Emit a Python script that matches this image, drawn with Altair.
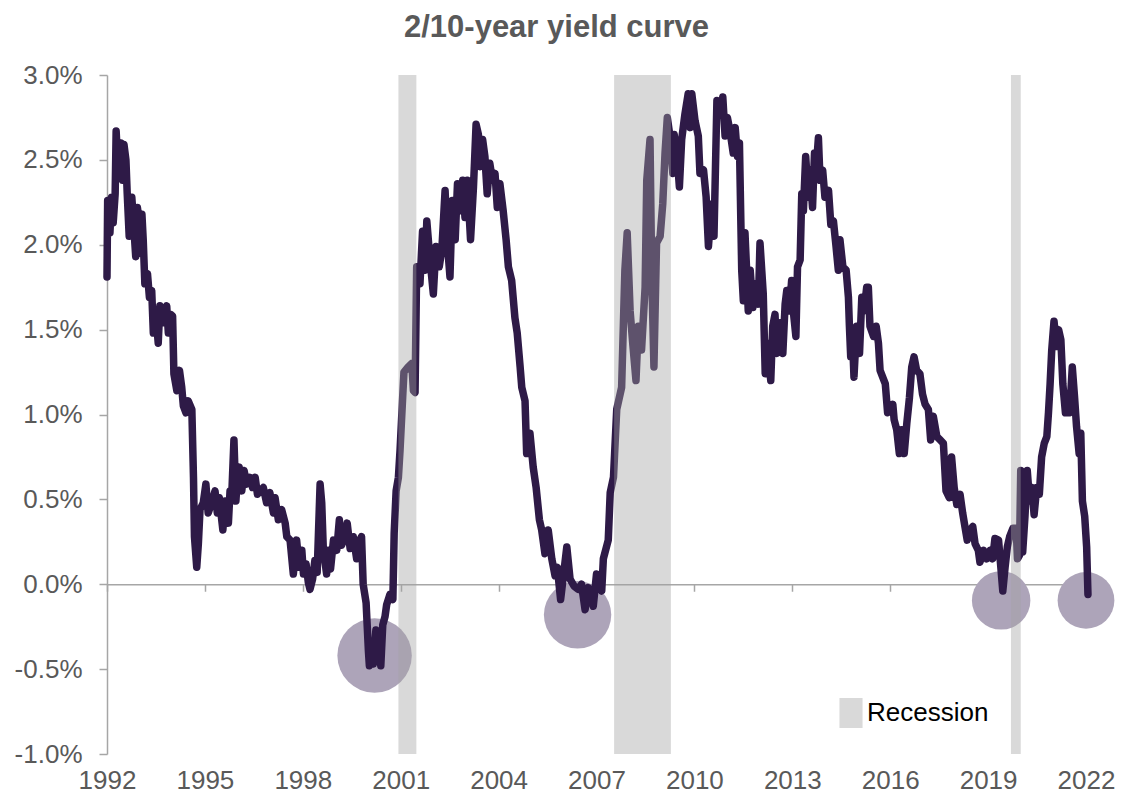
import altair as alt
import pandas as pd

# ---- data ----
years = [
    1992.00, 1992.02, 1992.09, 1992.14, 1992.19, 1992.25, 1992.28, 1992.35, 1992.42, 1992.48,
    1992.52, 1992.58, 1992.62, 1992.68, 1992.73, 1992.76, 1992.81, 1992.88, 1992.93, 1992.99,
    1993.03, 1993.07, 1993.11, 1993.16, 1993.24, 1993.30, 1993.37, 1993.42, 1993.47, 1993.52,
    1993.57, 1993.62, 1993.71, 1993.83, 1993.88, 1993.95, 1994.01, 1994.05, 1994.14, 1994.22,
    1994.29, 1994.34, 1994.42, 1994.49, 1994.60, 1994.65, 1994.68, 1994.75, 1994.80, 1994.85,
    1994.95, 1995.03, 1995.10, 1995.21, 1995.31, 1995.38, 1995.44, 1995.55, 1995.62, 1995.72,
    1995.77, 1995.82, 1995.89, 1995.95, 1995.99, 1996.05, 1996.13, 1996.20, 1996.28, 1996.38,
    1996.46, 1996.54, 1996.61,
    1996.69, 1996.79, 1996.89, 1996.99, 1997.10, 1997.15, 1997.25, 1997.35, 1997.46, 1997.51,
    1997.61, 1997.71, 1997.81, 1997.89, 1997.97, 1998.02, 1998.10, 1998.17, 1998.22, 1998.30,
    1998.37, 1998.44, 1998.53, 1998.58, 1998.63, 1998.73, 1998.78, 1998.85, 1998.94, 1999.04,
    1999.12, 1999.19, 1999.29, 1999.36, 1999.45, 1999.55, 1999.65, 1999.70, 1999.80, 1999.85,
    1999.94, 2000.01, 2000.04, 2000.11, 2000.16, 2000.24, 2000.31, 2000.39, 2000.45, 2000.52,
    2000.57, 2000.67, 2000.76, 2000.80, 2000.86, 2000.93, 2000.98, 2001.06, 2001.10, 2001.23,
    2001.34, 2001.39, 2001.44, 2001.49,
    2001.59, 2001.67, 2001.75, 2001.80, 2001.88, 2002.00, 2002.08, 2002.18, 2002.26, 2002.36,
    2002.43, 2002.51, 2002.58, 2002.67, 2002.74, 2002.82, 2002.90, 2002.97, 2003.04, 2003.14,
    2003.23, 2003.31, 2003.38, 2003.43, 2003.51, 2003.58, 2003.65, 2003.73, 2003.81, 2003.89,
    2003.96, 2004.04, 2004.14, 2004.23, 2004.30, 2004.40, 2004.50, 2004.57, 2004.66, 2004.71,
    2004.81, 2004.86, 2004.96, 2005.06, 2005.15, 2005.25, 2005.32, 2005.42, 2005.52, 2005.63,
    2005.73, 2005.80, 2005.90, 2005.98, 2006.09, 2006.19, 2006.31, 2006.44, 2006.54, 2006.65,
    2006.75, 2006.85,
    2006.90, 2007.00, 2007.16, 2007.21, 2007.36, 2007.42, 2007.52,
    2007.62, 2007.77, 2007.87, 2007.94, 2008.03, 2008.11, 2008.21, 2008.28, 2008.38, 2008.49,
    2008.54, 2008.64, 2008.69, 2008.76, 2008.84, 2008.95, 2009.03, 2009.10, 2009.17, 2009.25,
    2009.34, 2009.38, 2009.48, 2009.54, 2009.61, 2009.71, 2009.81, 2009.87, 2009.92, 2010.02,
    2010.12, 2010.17, 2010.28, 2010.36, 2010.43, 2010.53, 2010.60, 2010.69, 2010.79, 2010.87,
    2010.94, 2011.01, 2011.09, 2011.19, 2011.25, 2011.32, 2011.38, 2011.45, 2011.50, 2011.55,
    2011.60, 2011.65, 2011.71, 2011.79, 2011.86, 2011.96,
    2012.01, 2012.11, 2012.17, 2012.24, 2012.34, 2012.40, 2012.47, 2012.52, 2012.63, 2012.71,
    2012.78, 2012.83, 2012.91, 2012.98, 2013.03, 2013.11, 2013.16, 2013.24, 2013.29, 2013.34,
    2013.41, 2013.49, 2013.54, 2013.62, 2013.68, 2013.73, 2013.80, 2013.85, 2013.93, 2014.00,
    2014.11, 2014.18, 2014.26, 2014.34, 2014.41, 2014.46, 2014.55, 2014.65, 2014.72, 2014.75,
    2014.79, 2014.85, 2014.89, 2014.97, 2015.06, 2015.13, 2015.20, 2015.28, 2015.33, 2015.38,
    2015.49, 2015.57, 2015.64, 2015.69, 2015.77, 2015.85, 2015.92, 2016.00, 2016.08, 2016.12,
    2016.20, 2016.28, 2016.35, 2016.43, 2016.51, 2016.59, 2016.66, 2016.73, 2016.81, 2016.91,
    2016.99, 2017.07, 2017.17, 2017.24,
    2017.32, 2017.43, 2017.53, 2017.63, 2017.71, 2017.81, 2017.88, 2017.96, 2018.04, 2018.14,
    2018.22, 2018.29, 2018.36, 2018.45, 2018.53, 2018.60, 2018.70, 2018.75, 2018.86, 2018.96,
    2019.06, 2019.14, 2019.21, 2019.32, 2019.39, 2019.45, 2019.52, 2019.59, 2019.66, 2019.76,
    2019.86, 2019.90, 2019.96, 2020.00, 2020.06, 2020.13, 2020.20, 2020.27, 2020.34, 2020.41,
    2020.49, 2020.57, 2020.64, 2020.72, 2020.80, 2020.85, 2020.90, 2020.95, 2021.02, 2021.09,
    2021.16, 2021.23, 2021.29, 2021.37, 2021.44, 2021.50, 2021.58, 2021.65, 2021.71, 2021.79,
    2021.84, 2021.89, 2021.96, 2022.02, 2022.06,
]

spread = [
    1.81, 2.26, 2.07, 2.28, 2.13, 2.30, 2.67, 2.40, 2.60, 2.38,
    2.59, 2.50, 2.30, 2.05, 2.20, 2.28, 2.14, 1.93, 2.22, 2.14,
    1.95, 2.18, 2.03, 1.77, 1.83, 1.69, 1.73, 1.48, 1.61, 1.54,
    1.42, 1.64, 1.54, 1.64, 1.48, 1.59, 1.58, 1.24, 1.14, 1.26,
    1.16, 1.05, 1.01, 1.08, 1.03, 0.63, 0.28, 0.10, 0.24, 0.44,
    0.48, 0.59, 0.42, 0.48, 0.55, 0.42, 0.51, 0.32, 0.49, 0.36,
    0.55, 0.51, 0.85, 0.49, 0.61, 0.69, 0.55, 0.67, 0.59, 0.63,
    0.57, 0.63, 0.53,
    0.55, 0.57, 0.48, 0.54, 0.42, 0.51, 0.38, 0.44, 0.36, 0.28,
    0.26, 0.06, 0.26, 0.10, 0.20, 0.06, 0.12, 0.01, -0.03, 0.03,
    0.14, 0.07, 0.59, 0.48, 0.20, 0.06, 0.20, 0.09, 0.26, 0.20,
    0.38, 0.23, 0.28, 0.36, 0.21, 0.28, 0.15, 0.24, 0.28, 0.00,
    -0.11, -0.39, -0.48, -0.39, -0.47, -0.27, -0.35, -0.48, -0.24, -0.19,
    -0.12, -0.06, -0.09, 0.30, 0.55, 0.63, 0.79, 1.10, 1.25, 1.28,
    1.30, 1.14, 1.13, 1.87,
    1.77, 2.08, 1.85, 2.14, 1.95, 1.71, 1.99, 1.87, 1.97, 2.32,
    2.01, 1.81, 2.26, 2.03, 2.36, 2.20, 2.38, 2.16, 2.38, 2.03,
    2.34, 2.71, 2.65, 2.46, 2.62, 2.52, 2.30, 2.48, 2.38, 2.42,
    2.22, 2.36, 2.20, 2.03, 1.87, 1.79, 1.57, 1.48, 1.28, 1.16,
    1.08, 0.77, 0.89, 0.69, 0.57, 0.38, 0.32, 0.18, 0.32, 0.15,
    0.05, 0.10, -0.09, 0.04, 0.22, 0.03, -0.01, -0.03, 0.00, -0.15,
    -0.02, -0.08,
    -0.13, 0.06, -0.04, 0.15, 0.26, 0.54, 0.63,
    1.03, 1.16, 1.85, 2.07, 1.61, 1.42, 1.20, 1.52, 1.38, 1.75,
    2.38, 2.62, 1.85, 1.28, 2.01, 2.05, 2.24, 2.54, 2.75, 2.64,
    2.42, 2.65, 2.50, 2.34, 2.62, 2.77, 2.89, 2.69, 2.89, 2.73,
    2.64, 2.42, 2.44, 2.28, 1.99, 2.24, 2.05, 2.85, 2.77, 2.87,
    2.64, 2.75, 2.67, 2.54, 2.69, 2.52, 2.60, 1.85, 1.67, 2.07,
    1.85, 1.61, 1.85, 1.63, 1.77, 1.65,
    2.01, 1.71, 1.24, 1.42, 1.20, 1.52, 1.59, 1.36, 1.54, 1.36,
    1.65, 1.73, 1.61, 1.79, 1.61, 1.46, 1.87, 1.91, 2.30, 2.20,
    2.52, 2.28, 2.44, 2.22, 2.54, 2.44, 2.63, 2.38, 2.44, 2.28,
    2.32, 2.12, 2.14, 1.99, 1.85, 2.03, 1.87, 1.85, 1.69, 1.52,
    1.34, 1.42, 1.22, 1.52, 1.36, 1.69, 1.61, 1.75, 1.75, 1.52,
    1.46, 1.52, 1.42, 1.26, 1.22, 1.18, 1.01, 1.03, 1.06, 0.97,
    0.91, 0.77, 0.91, 0.77, 0.95, 1.10, 1.28, 1.34, 1.26, 1.24,
    1.12, 1.06, 1.03, 0.85,
    0.99, 0.87, 0.85, 0.83, 0.55, 0.51, 0.75, 0.57, 0.47, 0.53,
    0.42, 0.34, 0.26, 0.32, 0.34, 0.24, 0.20, 0.13, 0.20, 0.15,
    0.20, 0.15, 0.27, 0.26, 0.10, -0.04, 0.10, 0.22, 0.28, 0.33,
    0.33, 0.15, 0.17, 0.67, 0.19, 0.40, 0.67, 0.49, 0.57, 0.41,
    0.57, 0.53, 0.75, 0.83, 0.87, 1.01, 1.18, 1.38, 1.55, 1.40,
    1.50, 1.44, 1.18, 1.01, 1.08, 1.01, 1.28, 1.10, 0.93, 0.77,
    0.89, 0.49, 0.40, 0.22, -0.06,
]

recession_start = [2000.93, 2007.54, 2019.70]
recession_end = [2001.48, 2009.28, 2020.00]
recession_label = ["Recession", "Recession", "Recession"]

inversion_year = [2000.20, 2006.42, 2019.40, 2022.00]
inversion_value = [-0.42, -0.18, -0.095, -0.095]

x_tick_years = [1992, 1995, 1998, 2001, 2004, 2007, 2010, 2013, 2016, 2019, 2022]
y_tick_values = [-1.0, -0.5, 0.0, 0.5, 1.0, 1.5, 2.0, 2.5, 3.0]

# ---- styling ----
W, H = 979, 679
FONT = "Liberation Sans"
LINE_COLOR = "#2e1a47"
AXIS_COLOR = "#a6a6a6"
LABEL_COLOR = "#595959"
CIRCLE_COLOR = "#ada4b9"
CIRCLE_SIZES = [5540, 4540, 3420, 3220]
LEGEND_SYMBOL = "M-0.77,-1H0.77V1H-0.77Z"

line_df = pd.DataFrame({"year": years, "spread": spread})
rec_df = pd.DataFrame({"start": recession_start, "end": recession_end, "label": recession_label})
circ_df = pd.DataFrame({"year": inversion_year, "spread": inversion_value, "sz": CIRCLE_SIZES})

xscale = alt.Scale(domain=[1992, 2022], nice=False, zero=False)
yscale = alt.Scale(domain=[-1, 3], nice=False, zero=False)

y_label_expr = "(datum.value < 0 ? '-' : '') + format(abs(datum.value), '.1f') + '%'"

y_axis = alt.Axis(
    values=y_tick_values, labelExpr=y_label_expr, grid=False, title=None,
    domainColor=AXIS_COLOR, domainWidth=1.5, tickColor=AXIS_COLOR, tickWidth=1.5,
    tickSize=8, labelPadding=17, labelFontSize=26, labelColor=LABEL_COLOR,
    labelFont=FONT,
)

circles = alt.Chart(circ_df).mark_circle(color=CIRCLE_COLOR, opacity=1).encode(
    x=alt.X("year:Q", scale=xscale, axis=None),
    y=alt.Y("spread:Q", scale=yscale, axis=y_axis),
    size=alt.Size("sz:Q", scale=None, legend=None),
)

line = alt.Chart(line_df).mark_line(
    color=LINE_COLOR, strokeWidth=7.5, strokeCap="round", strokeJoin="round"
).encode(
    x=alt.X(
        "year:Q", scale=xscale,
        axis=alt.Axis(
            orient="bottom", values=x_tick_years, format="d", domain=False, ticks=False,
            grid=False, title=None, labelFontSize=26, labelColor=LABEL_COLOR,
            labelPadding=13, labelFont=FONT, labelFlush=False, labelOverlap=False,
        ),
    ),
    y=alt.Y("spread:Q", scale=yscale, axis=y_axis),
)

bands = alt.Chart(rec_df).mark_rect(opacity=0.41).encode(
    x=alt.X(
        "start:Q", scale=xscale,
        axis=alt.Axis(
            orient="bottom", values=x_tick_years, labels=False, domain=True, ticks=True,
            grid=False, title=None, tickSize=7, offset=-H / 4, domainColor=AXIS_COLOR,
            domainWidth=1.5, tickColor=AXIS_COLOR, tickWidth=1.5,
        ),
    ),
    x2="end:Q",
    color=alt.Color(
        "label:N",
        scale=alt.Scale(range=["#a2a2a2"]),
        legend=alt.Legend(
            orient="none", legendX=729, legendY=623, title=None,
            symbolType=LEGEND_SYMBOL, symbolSize=900, symbolOpacity=0.41,
            symbolStrokeWidth=0, labelFontSize=26, labelColor="black",
            labelFont=FONT, padding=0, labelOffset=1,
        ),
    ),
)

chart = (
    alt.layer(circles, line, bands)
    .resolve_axis(x="independent")
    .properties(
        width=W,
        height=H,
        autosize=alt.AutoSizeParams(type="none"),
        padding={"left": 99, "top": 67, "right": 40, "bottom": 39},
        title=alt.TitleParams(
            "2/10-year yield curve", fontSize=31, fontWeight="bold",
            color=LABEL_COLOR, font=FONT, anchor="middle", offset=18, dx=-40,
        ),
    )
    .configure(font=FONT)
    .configure_view(stroke=None)
)

chart.save("out.html", embed_options={"renderer": "svg", "actions": False})
